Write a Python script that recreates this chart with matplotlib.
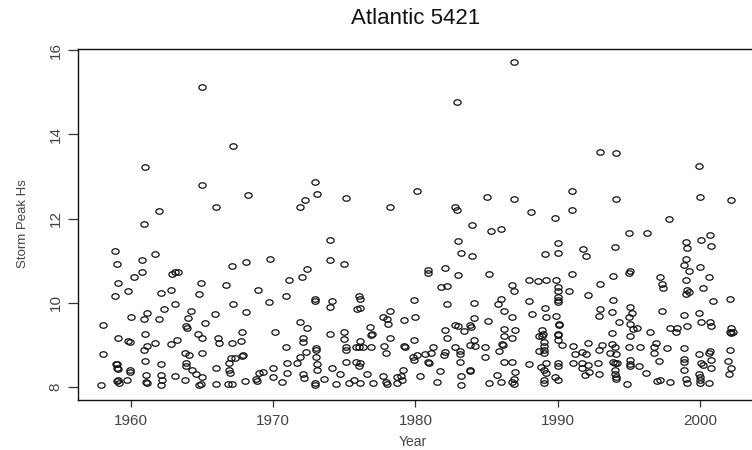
import matplotlib
matplotlib.use("Agg")
import matplotlib.pyplot as plt
from matplotlib.path import Path
from matplotlib.transforms import Affine2D

plt.rcParams["font.family"] = ["Liberation Sans", "DejaVu Sans"]

# storm peaks, grouped by period (decimal year, peak Hs in m)
year_58_63 = [1961.0, 1962.0, 1960.9, 1958.9, 1959.0, 1960.8, 1961.7,
              1962.9, 1963.1, 1963.3, 1960.8, 1960.2, 1959.1, 1958.9, 1959.8, 1962.1, 1962.8,
              1963.1, 1962.3, 1961.1, 1960.0, 1960.9, 1962.0, 1958.0, 1959.1, 1959.8, 1959.9,
              1961.0, 1961.1, 1960.9, 1961.7, 1962.8, 1963.2, 1958.0, 1961.0, 1958.95, 1959.05,
              1962.1, 1957.9, 1959.0, 1959.1, 1959.9, 1959.95, 1959.0, 1959.1, 1959.15, 1959.7,
              1961.05, 1961.05, 1961.1, 1962.1, 1962.15, 1962.1, 1963.1]
hs_58_63 = [13.23, 12.18, 11.87, 11.22, 10.93, 11.02, 11.15,
            10.68, 10.74, 10.74, 10.74, 10.60, 10.48, 10.17, 10.29, 10.22, 10.30,
            9.98, 9.85, 9.75, 9.65, 9.61, 9.61, 9.47, 9.16, 9.09, 9.06,
            9.26, 8.97, 8.87, 9.05, 9.01, 9.11, 8.78, 8.62, 8.55, 8.55,
            8.55, 8.05, 8.45, 8.43, 8.35, 8.40, 8.14, 8.16, 8.10, 8.16,
            8.29, 8.13, 8.10, 8.29, 8.16, 8.05, 8.27]

year_63_70 = [1965.0, 1967.2, 1965.0, 1968.2, 1966.0, 1968.1, 1967.1, 1969.8,
              1964.95, 1966.7, 1968.9, 1964.8, 1967.2, 1969.7, 1964.2, 1965.9, 1968.1,
              1964.0, 1963.9, 1963.95, 1965.2, 1967.8, 1964.7, 1965.0, 1966.1, 1966.2,
              1967.1, 1967.7, 1963.8, 1964.1, 1965.0, 1967.0, 1967.3, 1967.8, 1967.9,
              1963.9, 1966.9, 1963.8, 1963.9, 1964.3, 1964.6, 1965.0, 1964.8, 1964.9,
              1966.0, 1966.0, 1966.9, 1966.95, 1966.8, 1967.1, 1968.0, 1968.8, 1968.85,
              1969.0, 1969.3, 1970.0, 1970.0]
hs_63_70 = [15.13, 13.73, 12.80, 12.56, 12.28, 10.97, 10.87, 11.03,
            10.48, 10.42, 10.30, 10.20, 9.98, 10.02, 9.81, 9.73, 9.77,
            9.63, 9.45, 9.41, 9.52, 9.30, 9.25, 9.17, 9.17, 9.05,
            9.05, 9.09, 8.80, 8.76, 8.80, 8.68, 8.70, 8.73, 8.76,
            8.56, 8.57, 8.17, 8.50, 8.40, 8.30, 8.23, 8.05, 8.07,
            8.44, 8.07, 8.40, 8.34, 8.07, 8.07, 8.15, 8.20, 8.15,
            8.34, 8.36, 8.44, 8.24]

year_70_76 = [1972.9, 1973.1, 1972.2, 1971.9, 1975.1, 1974.0, 1974.0, 1975.0, 1972.4,
              1971.1, 1972.0, 1970.9, 1972.9, 1972.9, 1974.1, 1974.0, 1976.0, 1975.9,
              1976.1, 1971.9, 1972.4, 1970.1, 1974.0, 1975.0, 1972.1, 1972.1, 1975.0,
              1973.0, 1973.0, 1970.9, 1972.3, 1971.9, 1973.0, 1975.1, 1975.1, 1975.8,
              1971.0, 1971.7, 1973.1, 1975.1, 1975.8, 1971.0, 1972.1, 1972.15, 1972.9,
              1972.95, 1973.1, 1974.1, 1974.7, 1975.3, 1975.7, 1976.1, 1976.0,
              1970.6, 1973.6, 1974.4]
hs_70_76 = [12.86, 12.58, 12.45, 12.27, 12.49, 11.48, 11.02, 10.93, 10.80,
            10.53, 10.61, 10.16, 10.10, 10.03, 10.03, 9.90, 10.15, 9.86,
            9.88, 9.54, 9.39, 9.31, 9.26, 9.31, 9.16, 9.06, 9.14,
            8.93, 8.87, 8.96, 8.82, 8.71, 8.71, 8.96, 8.87, 8.96,
            8.58, 8.58, 8.55, 8.60, 8.60, 8.34, 8.32, 8.22, 8.10,
            8.05, 8.40, 8.46, 8.32, 8.10, 8.16, 8.10, 8.50,
            8.12, 8.18, 8.08]

year_76_82 = [1978.2, 1980.1, 1980.9, 1982.1, 1980.9, 1981.8, 1982.2, 1976.1, 1979.9,
              1982.2, 1978.2, 1977.7, 1978.0, 1978.1, 1979.2, 1980.0, 1976.8, 1976.9,
              1976.95, 1978.2, 1979.9, 1982.1, 1982.2, 1976.1, 1976.0, 1976.3, 1976.9,
              1977.8, 1977.9, 1979.2, 1979.25, 1981.2, 1980.7, 1981.1, 1979.8, 1980.1,
              1979.9, 1980.9, 1980.95, 1982.0, 1982.1, 1976.1, 1977.0, 1977.7, 1977.9,
              1978.0, 1978.7, 1978.7, 1979.1, 1979.0, 1979.05, 1980.35,
              1976.6, 1981.5, 1981.7]
hs_76_82 = [12.28, 12.66, 10.78, 10.82, 10.70, 10.38, 10.39, 10.09, 10.06,
            9.98, 9.81, 9.66, 9.62, 9.49, 9.58, 9.67, 9.42, 9.23,
            9.27, 9.17, 9.12, 9.36, 9.17, 9.09, 8.96, 8.96, 8.96,
            8.98, 8.81, 8.98, 8.96, 8.96, 8.78, 8.80, 8.72, 8.76,
            8.65, 8.60, 8.58, 8.77, 8.82, 8.56, 8.10, 8.25, 8.12,
            8.07, 8.24, 8.10, 8.40, 8.25, 8.17, 8.25,
            8.30, 8.12, 8.38]

year_82_88 = [1986.9, 1982.9, 1985.0, 1986.9, 1982.8, 1982.9, 1988.1, 1984.0, 1985.3,
              1986.0, 1983.0, 1983.2, 1984.0, 1983.0, 1985.2, 1988.0, 1988.6, 1986.8,
              1986.9, 1986.0, 1985.8, 1986.2, 1984.1, 1988.0, 1988.2, 1986.8, 1984.1,
              1985.1, 1982.8, 1983.0, 1983.8, 1983.9, 1983.4, 1986.2, 1987.0, 1986.2,
              1986.8, 1988.7, 1984.1, 1983.8, 1984.15, 1984.9, 1986.05, 1986.15, 1982.8,
              1983.1, 1983.15, 1985.9, 1984.9, 1983.1, 1986.2, 1986.8, 1988.7, 1988.0,
              1983.2, 1983.2, 1983.8, 1983.85, 1985.2, 1985.75, 1986.0, 1986.8, 1986.9,
              1987.0, 1986.9]
hs_82_88 = [15.72, 14.77, 12.51, 12.47, 12.28, 12.20, 12.16, 11.85, 11.71,
            11.75, 11.46, 11.18, 11.11, 10.66, 10.68, 10.55, 10.52, 10.42,
            10.28, 10.08, 9.96, 9.81, 10.00, 10.04, 9.73, 9.65, 9.63,
            9.57, 9.47, 9.44, 9.47, 9.42, 9.33, 9.38, 9.36, 9.22,
            9.16, 9.22, 9.12, 9.00, 8.98, 8.96, 9.03, 9.00, 8.94,
            8.85, 8.78, 8.86, 8.71, 8.60, 8.60, 8.60, 8.85, 8.55,
            8.25, 8.05, 8.40, 8.38, 8.10, 8.29, 8.13, 8.13, 8.20,
            8.36, 8.08]

year_88_94 = [1993.0, 1994.1, 1991.0, 1991.0, 1989.8, 1994.1, 1990.0, 1989.1, 1990.0,
              1991.8, 1992.0, 1994.0, 1991.0, 1989.2, 1989.9, 1993.9, 1990.0, 1993.0,
              1990.05, 1990.05, 1990.0, 1990.0, 1990.8, 1992.1, 1993.9, 1989.1, 1989.2,
              1989.9, 1993.0, 1992.9, 1993.8, 1990.1, 1990.1, 1988.9, 1988.95, 1988.9,
              1990.0, 1990.0, 1990.0, 1993.8, 1989.05, 1989.05, 1989.05, 1989.05, 1990.3,
              1991.1, 1992.1, 1993.1, 1993.8, 1994.0, 1991.2, 1991.7, 1992.0, 1992.9,
              1993.7, 1989.2, 1990.0, 1991.1, 1991.7, 1992.8, 1993.9, 1988.8, 1989.0,
              1989.15, 1989.0, 1989.0, 1989.8, 1990.0, 1990.05, 1991.7, 1992.1, 1992.2,
              1991.9, 1992.9, 1994.05, 1994.05, 1994.1, 1994.1, 1994.0, 1994.2, 1994.1]
hs_88_94 = [13.58, 13.55, 12.66, 12.19, 12.01, 12.46, 11.43, 11.15, 11.18,
            11.28, 11.11, 11.32, 10.68, 10.55, 10.55, 10.64, 10.38, 10.44,
            10.27, 10.14, 10.07, 10.01, 10.27, 10.19, 10.07, 9.88, 9.66,
            9.69, 9.85, 9.69, 9.78, 9.50, 9.47, 9.35, 9.27, 9.20,
            9.26, 9.24, 9.12, 9.28, 9.06, 8.97, 8.87, 8.80, 9.00,
            8.98, 9.05, 9.00, 9.02, 8.94, 8.78, 8.82, 8.78, 8.87,
            8.80, 8.57, 8.56, 8.56, 8.56, 8.56, 8.60, 8.48, 8.40,
            8.34, 8.16, 8.10, 8.24, 8.16, 8.50, 8.44, 8.52, 8.36,
            8.28, 8.32, 8.40, 8.32, 8.24, 8.20, 8.56, 8.56, 8.78]

year_94_03 = [1994.9, 1995.05, 1995.1, 1995.05, 1995.0, 1995.8, 1995.7, 1996.2, 1995.3,
              1995.05, 1996.8, 1996.8, 1996.9, 1997.1, 1997.0, 1997.2, 1997.7, 1997.9,
              1997.9, 1998.4, 1998.9, 1998.9, 1998.9, 1998.9, 1999.0, 1999.1, 1999.95,
              1999.95, 2000.0, 2000.0, 2000.0, 2000.1, 2000.2, 2000.6, 2000.7, 2000.8,
              2000.6, 2000.8, 2002.1, 2002.0, 2002.2, 2002.05, 2002.1, 2002.2,
              1994.3, 1995.0, 1995.1, 1995.0, 1995.1, 1995.2, 1995.0, 1995.1, 1995.6,
              1996.3, 1996.5, 1997.2, 1997.3, 1997.4, 1997.3, 1997.8, 1998.3, 1999.0,
              1999.1, 1999.0, 1998.9, 1999.2, 1999.0, 1999.1, 1999.2, 1999.0, 1998.9,
              1999.1, 1999.9, 2000.0, 2000.1, 2000.0, 2000.2, 1999.9, 2000.1, 2000.7,
              2000.8, 2000.6, 2000.9, 2000.7, 2000.8, 2002.2, 2002.1, 2002.2, 2002.3]
hs_94_03 = [8.08, 8.55, 8.50, 8.64, 8.96, 8.96, 8.50, 8.34, 9.38,
            9.22, 8.95, 8.80, 9.05, 8.62, 8.14, 8.17, 8.92, 8.13,
            9.40, 9.40, 8.93, 8.67, 8.60, 8.40, 8.20, 8.10, 8.78,
            8.32, 8.24, 8.16, 8.10, 8.57, 8.52, 8.80, 8.85, 8.64,
            8.10, 8.46, 8.88, 8.62, 8.46, 8.30, 9.30, 9.28,
            9.55, 11.65, 10.75, 10.70, 9.90, 9.75, 9.65, 9.50, 9.40,
            11.65, 9.30, 10.60, 10.45, 10.35, 9.80, 12.00, 9.30, 11.45,
            11.30, 11.05, 10.90, 10.75, 10.55, 10.30, 10.25, 10.20, 9.70,
            9.45, 13.25, 12.50, 11.50, 10.85, 10.35, 9.75, 9.55, 11.60,
            11.35, 10.60, 10.05, 9.55, 9.45, 12.45, 10.10, 9.40, 9.30]

years = year_58_63 + year_63_70 + year_70_76 + year_76_82 + year_82_88 + year_88_94 + year_94_03
peak_hs = hs_58_63 + hs_63_70 + hs_70_76 + hs_76_82 + hs_82_88 + hs_88_94 + hs_94_03

W, H = 752, 450
fig = plt.figure(figsize=(W / 100, H / 100), dpi=100)
# plot box runs past the right edge of the figure
ax = fig.add_axes([78 / W, 50 / H, (754 - 78) / W, 351 / H])

# open circles, a little flattened
oval = Path.unit_circle().transformed(Affine2D().scale(1.0, 0.76))
ax.plot(years, peak_hs, linestyle="none", marker=oval, markersize=5.2,
        markerfacecolor="none", markeredgecolor="#111111", markeredgewidth=0.9)

px_per_year = 14.225
ax.set_xlim(1960 - 53 / px_per_year, 1960 + (754 - 131) / px_per_year)
ax.set_ylim(8 - 13 / 42.125, 8 + 338 / 42.125)
ax.set_xticks([1960, 1970, 1980, 1990, 2000])
ax.set_yticks([8, 10, 12, 14, 16])

for side in ["left", "bottom", "top"]:
    ax.spines[side].set_linewidth(1.0)
    ax.spines[side].set_color("#111111")
ax.spines["right"].set_visible(False)

ax.tick_params(axis="x", length=5, width=0.9, color="#333333", pad=5,
               labelsize=11, labelcolor="#444444")
ax.tick_params(axis="y", length=7, width=0.9, color="#333333", pad=4,
               labelsize=11, labelcolor="#444444")
for lab in ax.get_yticklabels():
    lab.set_rotation(90)
    lab.set_va("center")

fig.text(416 / W, 1 - 19 / H, "Atlantic 5421", ha="center", va="center",
         fontsize=16, color="#111111")
fig.text(413 / W, 1 / H, "Year", ha="center", va="bottom",
         fontsize=10, color="#444444")
fig.text(23 / W, 1 - 224 / H, "Storm Peak Hs", ha="center", va="center",
         rotation=90, fontsize=9.5, color="#444444")

fig.savefig("out.png", dpi=100)
